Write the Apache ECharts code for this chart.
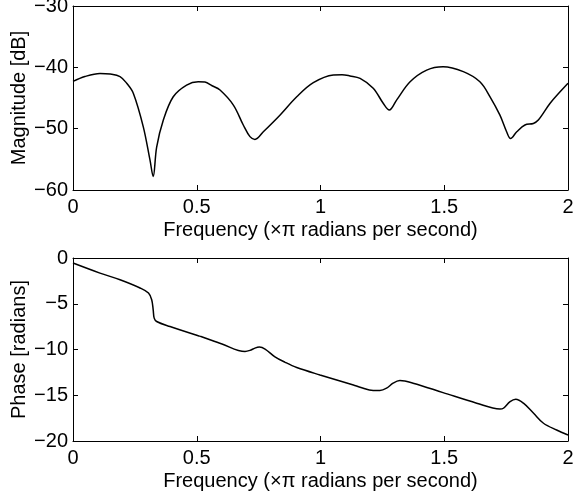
<!DOCTYPE html>
<html>
<head>
<meta charset="utf-8">
<script src="https://cdn.jsdelivr.net/npm/echarts@6/dist/echarts.min.js"></script>
<style>
html,body{margin:0;padding:0;background:#fff;}
#c{width:573px;height:499px;}
</style>
</head>
<body>
<div id="c"></div>
<script>
// Frequency (x pi rad/sample) and magnitude in dB
var magFreq = [0.000,0.048,0.109,0.150,0.190,0.217,0.244,0.284,0.311,0.324,0.338,0.365,0.405,0.459,0.506,0.533,0.562,0.594,0.648,0.688,0.715,0.735,0.769,0.836,0.904,0.971,1.052,1.087,1.119,1.160,1.213,1.254,1.278,1.308,1.362,1.429,1.495,1.577,1.644,1.685,1.725,1.752,1.768,1.793,1.826,1.860,1.880,1.927,1.968,2.000];
var magDb   = [-42.3,-41.5,-41.0,-41.1,-41.5,-42.6,-44.25,-49.7,-55.1,-57.8,-53.0,-48.6,-44.8,-42.9,-42.35,-42.4,-43.0,-43.7,-46.15,-49.4,-51.3,-51.75,-50.5,-47.8,-44.8,-42.5,-41.25,-41.2,-41.4,-41.8,-43.4,-45.9,-46.97,-45.3,-42.35,-40.45,-39.9,-40.7,-42.35,-44.8,-47.8,-50.5,-51.6,-50.5,-49.4,-49.15,-48.6,-45.9,-44.0,-42.6];

// Frequency and unwrapped phase in radians
var phFreq = [0.000,0.109,0.190,0.271,0.305,0.318,0.324,0.328,0.338,0.392,0.506,0.517,0.602,0.695,0.715,0.735,0.753,0.776,0.816,0.857,0.904,0.998,1.133,1.160,1.213,1.240,1.267,1.293,1.321,1.374,1.495,1.631,1.725,1.739,1.766,1.789,1.820,1.861,1.901,1.954,2.000];
var phRad  = [-0.55,-1.65,-2.38,-3.28,-3.83,-4.56,-5.66,-6.57,-6.94,-7.49,-8.50,-8.58,-9.40,-10.22,-10.10,-9.85,-9.74,-9.95,-10.80,-11.40,-11.97,-12.78,-13.87,-14.12,-14.49,-14.49,-14.23,-13.68,-13.40,-13.68,-14.71,-15.87,-16.50,-16.42,-15.70,-15.44,-15.87,-16.97,-18.06,-18.80,-19.34];

var xTicks = [0, 0.5, 1, 1.5, 2];
var magTicks = [-60, -50, -40, -30];
var phTicks = [-20, -15, -10, -5, 0];

function pairs(xs, ys){ return xs.map(function(x,i){return [x, ys[i]];}); }
function fmt(v){ return String(v).replace('-', '\u2212'); }

var FONT = 'Liberation Sans, Arial, Helvetica, sans-serif';
var FS = 20;
var lbl = {color:'#000', fontSize:FS, fontFamily:FONT};
var axLine = {show:true, onZero:false, lineStyle:{color:'#000', width:1}};
var tick = {show:true, inside:true, length:5, lineStyle:{color:'#000', width:1}};

function xAx(grid, main){
  return {
    type:'value', gridIndex:grid, min:0, max:2, interval:0.5,
    position: main ? 'bottom' : 'top',
    name: main ? 'Frequency (\u00d7\u03c0 radians per second)' : '',
    nameLocation:'middle', nameGap:30, nameMoveOverlap:false,
    nameTextStyle:{color:'#000', fontSize:FS, fontFamily:FONT},
    axisLine:axLine, axisTick:tick, splitLine:{show:false},
    axisLabel: main ? Object.assign({margin:7, hideOverlap:false, formatter:function(v){return fmt(v);}}, lbl) : {show:false}
  };
}
function yAx(grid, min, max, interval, main, name){
  return {
    type:'value', gridIndex:grid, min:min, max:max, interval:interval,
    position: main ? 'left' : 'right',
    name: main ? name : '', nameLocation:'middle', nameGap:44, nameMoveOverlap:false,
    nameTextStyle:{color:'#000', fontSize:FS, fontFamily:FONT},
    axisLine:axLine, axisTick:tick, splitLine:{show:false},
    axisLabel: main ? Object.assign({margin:5, hideOverlap:false, formatter:function(v){return fmt(v);}}, lbl) : {show:false}
  };
}

var chart = echarts.init(document.getElementById('c'), null, {renderer:'canvas'});
chart.setOption({
  animation:false,
  backgroundColor:'#fff',
  grid:[
    {left:73, top:6, width:495, height:184, containLabel:false, outerBoundsMode:'none'},
    {left:73, top:258, width:495, height:183, containLabel:false, outerBoundsMode:'none'}
  ],
  xAxis:[xAx(0,true), xAx(0,false), xAx(1,true), xAx(1,false)],
  yAxis:[yAx(0,-60,-30,10,true,'Magnitude [dB]'), yAx(0,-60,-30,10,false),
         yAx(1,-20,0,5,true,'Phase [radians]'), yAx(1,-20,0,5,false)],
  series:[
    {type:'line', xAxisIndex:0, yAxisIndex:0, data:pairs(magFreq, magDb), showSymbol:false,
     smooth:0.35, lineStyle:{color:'#000', width:1.5}},
    {type:'line', xAxisIndex:2, yAxisIndex:2, data:pairs(phFreq, phRad), showSymbol:false,
     smooth:0.35, lineStyle:{color:'#000', width:1.5}}
  ]
});
</script>
</body>
</html>
